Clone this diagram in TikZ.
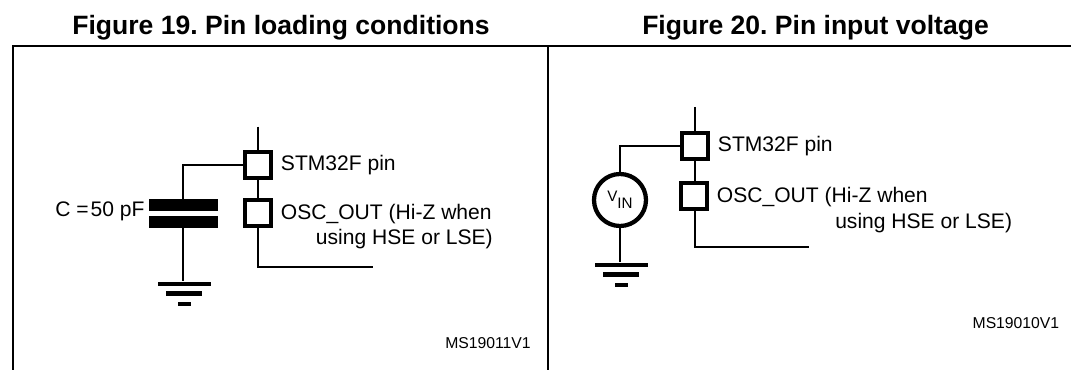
\documentclass[tikz,border=0pt]{standalone}
\usepackage{fontspec}
\setmainfont{Liberation Sans}
\usepackage{tikz}

\tikzset{
  pinbox/.style={draw, line width=3.2pt, fill=white, minimum size=19.5pt, inner sep=0pt},
  plate/.style={fill=black, minimum width=51.75pt, minimum height=8.7pt, inner sep=0pt},
  gndbar/.style={fill=black, minimum height=3.4pt, inner sep=0pt},
  wire/.style={line width=1.5pt},
  frameline/.style={line width=1.5pt},
  lbl/.style={font=\fontsize{15.8}{18}\selectfont, inner sep=0pt, anchor=base west},
  tag/.style={font=\fontsize{11.8}{14}\selectfont, inner sep=0pt, anchor=base east},
  caption/.style={font=\fontsize{19.9}{24}\selectfont\bfseries, inner sep=0pt, anchor=base}
}

\begin{document}
\frenchspacing
\begin{tikzpicture}[x=0.75pt, y=-0.75pt]
        \useasboundingbox (0,0) rectangle (1071,370);

        \node[caption] (title19) at (281,34.5) {Figure 19. Pin loading conditions};
        \node[caption] (title20) at (815.5,34.5) {Figure 20. Pin input voltage};

        % frame
        \coordinate (tl) at (13.3,45.7);
        \coordinate (tm) at (547.7,45.7);
        \coordinate (tr) at (1071,45.7);
        \coordinate (bl) at (13.3,370);
        \coordinate (bm) at (547.7,370);
        \draw[frameline] (bl) -- (tl) -- (tr);
        \draw[frameline] (tm) -- (bm);

        % left circuit
        \coordinate (a-top) at (258,126.7);
        \coordinate (a-corner) at (183.3,165);
        \coordinate (a-end) at (373,266.7);
        \node[plate] (a-c1) at (183.5,204.8) {};
        \node[plate] (a-c2) at (183.5,221.8) {};
        \node[gndbar, minimum width=39.75pt] (a-g1) at (184.5,284) {};
        \node[gndbar, minimum width=27pt] (a-g2) at (184.3,293.6) {};
        \node[gndbar, minimum width=9.75pt] (a-g3) at (184.5,304.2) {};
        \node[pinbox] (a-pin) at (258,165) {};
        \node[pinbox] (a-osc) at (258,212.7) {};
        \draw[wire] (a-top) -- (a-pin);
        \draw[wire] (a-pin) -- (a-osc);
        \draw[wire] (a-osc) |- (a-end);
        \draw[wire] (a-pin) -- (a-corner) -- (a-corner |- a-c1.north);
        \draw[wire] (a-corner |- a-c2.south) -- (a-corner |- a-g1.north);
        \node[lbl] (a-pinlbl) at (280.7,171) {STM32F pin};
        \node[lbl] (a-osclbl) at (280.7,219.3) {OSC\_OUT (Hi-Z when};
        \node[lbl] (a-osclbl2) at (315.7,245) {using HSE or LSE)};
        \node[lbl, anchor=base east] (a-clbl) at (144.7,216.3) {C =\kern-3pt\ 50 pF};
        \node[tag] (a-tag) at (531,348.3) {MS19011V1};

        % right circuit
        \coordinate (b-top) at (695,107);
        \coordinate (b-corner) at (620,145.7);
        \coordinate (b-bend) at (695,247.3);
        \coordinate (b-end) at (809.3,247.3);
        \node[gndbar, minimum width=39.75pt] (b-g1) at (621,264.8) {};
        \node[gndbar, minimum width=27pt] (b-g2) at (621.3,274.3) {};
        \node[gndbar, minimum width=9.75pt] (b-g3) at (621.2,285) {};
        \node[pinbox] (b-pin) at (695,145.7) {};
        \node[pinbox] (b-osc) at (694,195.7) {};
        \node[circle, draw, line width=3.2pt, fill=white, minimum size=39pt, inner sep=0pt,
              font=\fontsize{11.4}{14}\selectfont] (b-vin) at (620,200) {V\raisebox{-5pt}{IN}};
        \draw[wire] (b-top) -- (b-pin);
        \draw[wire] (b-pin.south) -- (b-pin.south |- b-osc.north);
        \draw[wire] (b-pin.south |- b-osc.south) -- (b-bend) -- (b-end);
        \draw[wire] (b-pin) -- (b-corner) -- (b-vin);
        \draw[wire] (b-vin.south) -- (b-vin.south |- b-g1.north);
        \node[lbl] (b-pinlbl) at (717.7,151.7) {STM32F pin};
        \node[lbl] (b-osclbl) at (716.7,202.7) {OSC\_OUT (Hi-Z when};
        \node[lbl] (b-osclbl2) at (835,228.3) {using HSE or LSE)};
        \node[tag] (b-tag) at (1059.5,328.3) {MS19010V1};
      \end{tikzpicture}
\end{document}
